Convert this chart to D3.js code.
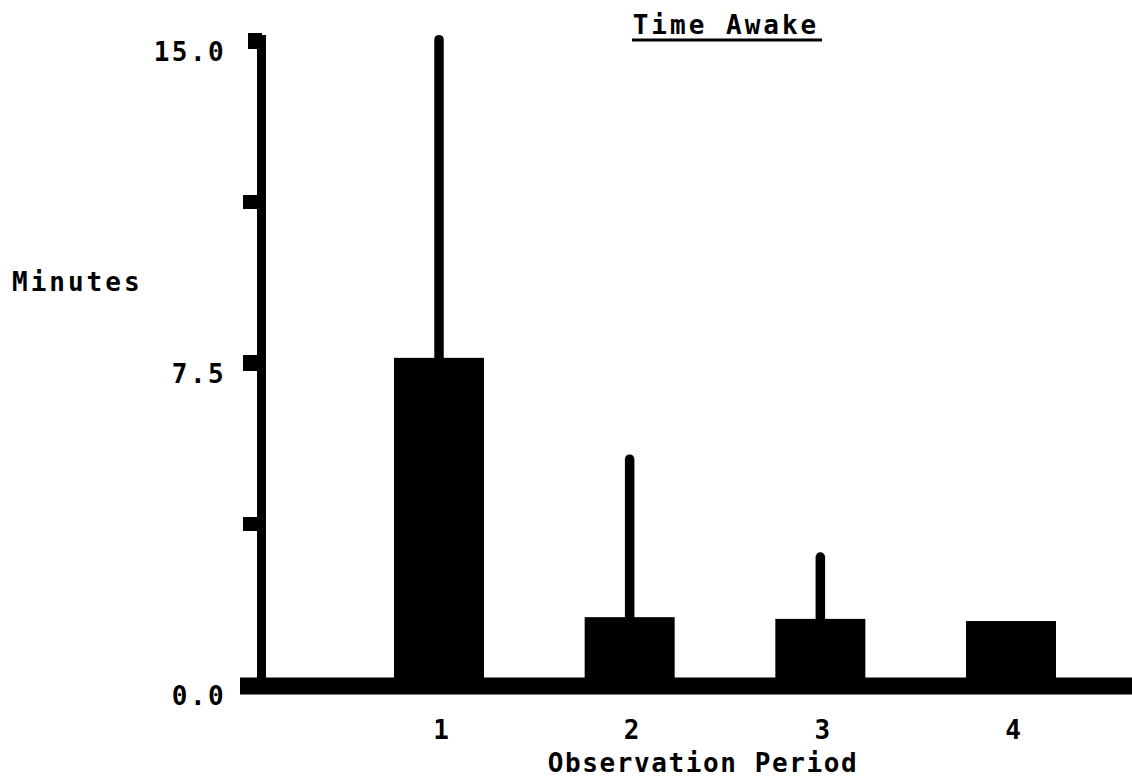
<!DOCTYPE html>
<html>
<head>
<meta charset="utf-8">
<script src="https://cdn.jsdelivr.net/npm/d3@7"></script>
<style>
  body { margin: 0; background: #fff; }
  text { font-family: "DejaVu Sans Mono", monospace; font-weight: bold; fill: #000; }
</style>
</head>
<body>
<svg id="graph"></svg>
<script>
// data
let periods = [1, 2, 3, 4]
let means = [7.62, 1.58, 1.54, 1.49]
let errTops = [15.1, 5.33, 3.05, null]
let labelTicks = [0, 7.5, 15]
let minorTicks = [3.75, 11.25]

function drawGraph() {
    let fullWidth = 1132
    let fullHeight = 778

    let svg = d3.select('svg#graph')
                .attr('width', fullWidth)
                .attr('height', fullHeight)

    svg.append('rect')
       .attr('width', fullWidth)
       .attr('height', fullHeight)
       .attr('fill', '#fff')

    let y = d3.scaleLinear().domain([0, 15]).range([685, 41])
    let x = d3.scalePoint().domain(periods).range([439, 1011])
    let barW = 90

    // bars
    svg.selectAll('rect.bar')
       .data(periods)
       .join('rect')
       .attr('class', 'bar')
       .attr('x', d => x(d) - barW / 2)
       .attr('width', barW)
       .attr('y', (d, i) => y(means[i]))
       .attr('height', (d, i) => y(0) - y(means[i]))
       .attr('fill', '#000')

    // error whiskers (upper only)
    svg.selectAll('line.err')
       .data(periods.filter((d, i) => errTops[i] != null))
       .join('line')
       .attr('class', 'err')
       .attr('x1', d => x(d))
       .attr('x2', d => x(d))
       .attr('y1', d => y(means[d - 1]))
       .attr('y2', d => y(errTops[d - 1]) + 3)
       .attr('stroke', '#000')
       .attr('stroke-width', 9.5)
       .attr('stroke-linecap', 'round')

    // y axis line
    svg.append('line')
       .attr('x1', 261.5).attr('x2', 261.5)
       .attr('y1', y(15) - 6).attr('y2', y(0))
       .attr('stroke', '#000')
       .attr('stroke-width', 9)

    // major ticks
    svg.selectAll('line.major')
       .data(labelTicks.filter(d => d > 0))
       .join('line')
       .attr('class', 'major')
       .attr('x1', d => d === 15 ? 248 : 243)
       .attr('x2', 262)
       .attr('y1', d => y(d))
       .attr('y2', d => y(d))
       .attr('stroke', '#000')
       .attr('stroke-width', 16)

    // minor ticks
    svg.selectAll('line.minor')
       .data(minorTicks)
       .join('line')
       .attr('class', 'minor')
       .attr('x1', 243)
       .attr('x2', 262)
       .attr('y1', d => y(d))
       .attr('y2', d => y(d))
       .attr('stroke', '#000')
       .attr('stroke-width', 14)

    // x axis bar
    svg.append('line')
       .attr('x1', 240).attr('x2', 1132)
       .attr('y1', y(0) + 1).attr('y2', y(0) + 1)
       .attr('stroke', '#000')
       .attr('stroke-width', 17)

    // tick labels
    svg.selectAll('text.ylab')
       .data(labelTicks)
       .join('text')
       .attr('class', 'ylab')
       .attr('x', 226)
       .attr('y', d => y(d) + 12)
       .attr('text-anchor', 'end')
       .attr('dominant-baseline', 'middle')
       .attr('font-size', 26)
       .attr('letter-spacing', 2.4)
       .text(d => d.toFixed(1))

    svg.selectAll('text.xlab')
       .data(periods)
       .join('text')
       .attr('class', 'xlab')
       .attr('x', d => x(d) + 2)
       .attr('y', 731)
       .attr('text-anchor', 'middle')
       .attr('dominant-baseline', 'middle')
       .attr('font-size', 26)
       .text(d => d)

    svg.append('text')
       .attr('x', 703)
       .attr('y', 764)
       .attr('text-anchor', 'middle')
       .attr('dominant-baseline', 'middle')
       .attr('font-size', 26)
       .attr('letter-spacing', 1.6)
       .text('Observation Period')

    svg.append('text')
       .attr('x', 12)
       .attr('y', 283)
       .attr('dominant-baseline', 'middle')
       .attr('font-size', 26)
       .attr('letter-spacing', 3)
       .text('Minutes')

    svg.append('text')
       .attr('x', 726)
       .attr('y', 26)
       .attr('text-anchor', 'middle')
       .attr('dominant-baseline', 'middle')
       .attr('font-size', 26)
       .attr('letter-spacing', 3)
       .text('Time Awake')

    svg.append('line')
       .attr('x1', 632).attr('x2', 822)
       .attr('y1', 40).attr('y2', 40)
       .attr('stroke', '#000')
       .attr('stroke-width', 3)
}

drawGraph()
</script>
</body>
</html>
